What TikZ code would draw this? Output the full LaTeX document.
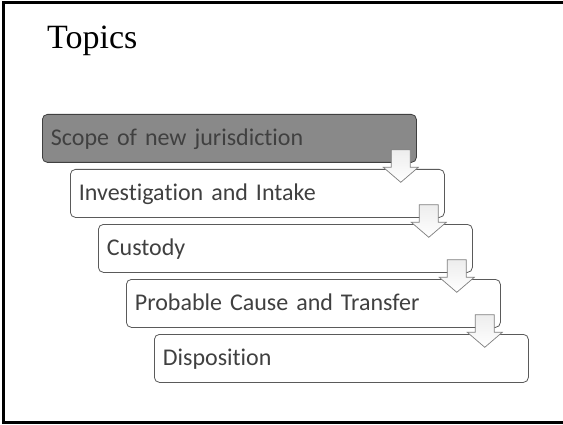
\documentclass[tikz,border=0pt]{standalone}
\usepackage{fontspec}
\setmainfont{Carlito}[Ligatures=NoCommon]
\newfontfamily\titlefont{Liberation Serif}
\usetikzlibrary{calc}
\definecolor{boxgray}{HTML}{898989}
\definecolor{boxedge}{HTML}{404040}
\definecolor{lineedge}{HTML}{5A5A5A}
\definecolor{txt}{HTML}{404040}
\definecolor{arrowedge}{HTML}{7F7F7F}
\tikzset{
  stepbox/.style={draw=lineedge, line width=0.8pt, fill=white, rounded corners=5pt,
    anchor=north west, minimum width=374pt, minimum height=48pt,
    text width=357pt, align=left, inner xsep=8.5pt, inner ysep=0pt,
    text height=17pt, text depth=3pt, font=\fontsize{24}{28}\selectfont, text=txt},
  activebox/.style={stepbox, fill=boxgray, draw=boxedge},
  blockarrow/.style={draw=arrowedge, line width=0.7pt, top color=gray!14, bottom color=white, line join=miter},
  frame/.style={draw=black, line width=3pt}
}
\begin{document}
\begin{tikzpicture}[x=1pt,y=1pt]
\useasboundingbox (0,0) rectangle (563,424);
\fill[white, overlay] (-10,-10) rectangle (580,440);
\draw[frame, overlay] (580,421) -- (3.5,421) -- (3.5,1.5) -- (580,1.5);
\node[anchor=base west, inner sep=0pt, font=\titlefont\fontsize{34}{40}\selectfont] (title) at (47,375.7) {Topics};
\node[activebox] (b1) at (42,310) {Scope of new jurisdiction};
\node[stepbox] (b2) at (70,255) {Investigation and Intake};
\node[stepbox] (b3) at (98,200) {Custody};
\node[stepbox] (b4) at (126,145) {Probable Cause and Transfer};
\node[stepbox] (b5) at (154,90) {Disposition};
\foreach \i in {1,2,3,4}{
  \coordinate (a\i) at ($(b\i.south east)+(-16,13)$);
  \path[blockarrow, shift={(a\i)}] (-9.5,0) -- (9.5,0) -- (9.5,-17.5) -- (17.5,-17.5) -- (0,-32.5) -- (-17.5,-17.5) -- (-9.5,-17.5) -- cycle;
}
\end{tikzpicture}
\end{document}
